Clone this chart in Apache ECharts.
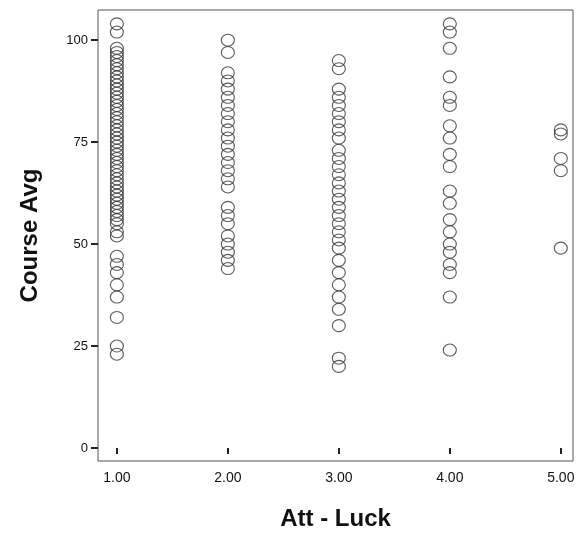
<!DOCTYPE html>
<html><head><meta charset="utf-8">
<script src="https://cdn.jsdelivr.net/npm/echarts@6/dist/echarts.min.js"></script>
<style>html,body{margin:0;padding:0;background:#fff}#c{width:578px;height:554px}</style>
</head><body><div id="c"></div>
<script>
const xTicks = [1, 2, 3, 4, 5];
const yTicks = [0, 25, 50, 75, 100];
const att1 = [104, 102, 98, 97, 96, 95, 94, 93, 92, 91, 90, 89, 88, 87, 86, 85, 84, 83, 82, 81, 80, 79, 78, 77, 76, 75, 74, 73, 72, 71, 70, 69, 68, 67, 66, 65, 64, 63, 62, 61, 60, 59, 58, 57, 56, 55, 53, 52, 47, 45, 43, 40, 37, 32, 25, 23];
const att2 = [100, 97, 92, 90, 88, 86, 84, 82, 80, 78, 76, 74, 72, 70, 68, 66, 64, 59, 57, 55, 52, 50, 48, 46, 44];
const att3 = [95, 93, 88, 86, 84, 82, 80, 78, 76, 73, 71, 69, 67, 65, 63, 61, 59, 57, 55, 53, 51, 49, 46, 43, 40, 37, 34, 30, 22, 20];
const att4 = [104, 102, 98, 91, 86, 84, 79, 76, 72, 69, 63, 60, 56, 53, 50, 48, 45, 43, 37, 24];
const att5 = [78, 77, 71, 68, 49];

const groups = [att1, att2, att3, att4, att5];
const points = [];
groups.forEach((vals, i) => vals.forEach(v => points.push([xTicks[i], v])));

const chart = echarts.init(document.getElementById('c'), null, {renderer: 'canvas'});
const font = 'Liberation Sans, Arial, Helvetica, sans-serif';
chart.setOption({
  animation: false,
  backgroundColor: '#fff',
  grid: {left: 98, right: 5, top: 10, bottom: 93, show: true, borderColor: '#555', borderWidth: 1, backgroundColor: 'transparent'},
  xAxis: {
    type: 'value', min: 0.83, max: 5.11,
    name: 'Att - Luck', nameLocation: 'middle', nameGap: 46,
    nameTextStyle: {fontFamily: font, fontSize: 24, fontWeight: 'bold', color: '#111'},
    axisLine: {show: false},
    splitLine: {show: false},
    axisTick: {show: true, customValues: xTicks, length: 6, lineStyle: {color: '#222', width: 2}},
    axisLabel: {customValues: xTicks, formatter: v => Number(v).toFixed(2), fontFamily: font, fontSize: 14, color: '#111', margin: 10}
  },
  yAxis: {
    type: 'value', min: -3.2, max: 107.4,
    name: 'Course Avg', nameLocation: 'middle', nameGap: 56,
    nameTextStyle: {fontFamily: font, fontSize: 24, fontWeight: 'bold', color: '#111'},
    axisLine: {show: false},
    splitLine: {show: false},
    axisTick: {show: true, customValues: yTicks, length: 7, lineStyle: {color: '#222', width: 2}},
    axisLabel: {customValues: yTicks, fontFamily: font, fontSize: 13, color: '#111', margin: 10}
  },
  series: [{
    type: 'scatter',
    data: points,
    symbol: 'circle',
    symbolSize: [13, 12],
    itemStyle: {color: 'transparent', borderColor: '#333', borderWidth: 1.1}
  }]
});
</script></body></html>
